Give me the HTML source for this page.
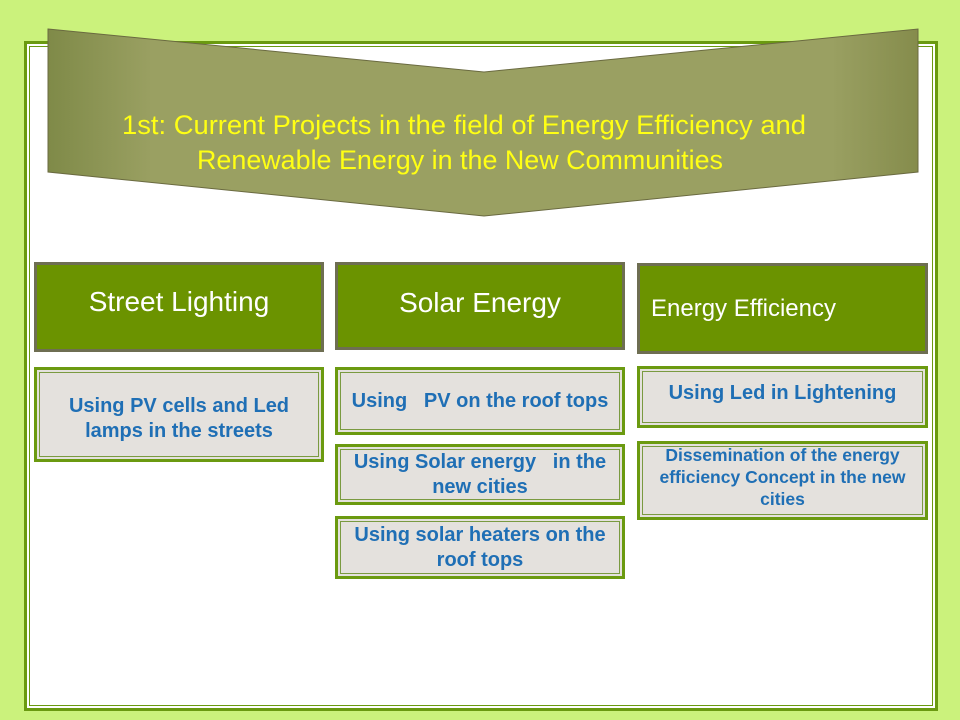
<!DOCTYPE html>
<html><head><style>
body{margin:0;width:960px;height:720px;background:#cbf27c;position:relative;overflow:hidden;font-family:"Liberation Sans",sans-serif}
.frame{position:absolute;left:24px;top:41px;width:908px;height:664px;border:3px solid #6a9a10;background:#fff}
.frame::after{content:"";position:absolute;left:2px;top:2px;right:2px;bottom:2px;border:1px solid #6a9a10}
.h{position:absolute;background:#6b9300;border:3px solid #6e6e52;box-sizing:border-box;color:#fff;display:flex;align-items:center;font-size:28px;letter-spacing:0px}
.s{position:absolute;background:#e4e1dd;border:3px solid #6b9a10;box-sizing:border-box;color:#1f6fb5;font-weight:bold;font-size:20px;letter-spacing:0px;display:flex;align-items:center;justify-content:center;text-align:center;line-height:25px;box-shadow:inset 0 0 0 2px #e4e1dd,inset 0 0 0 3px #7a9a40;white-space:nowrap}
</style></head><body>
<div class="frame"></div>
<svg style="position:absolute;left:0;top:0" width="960" height="720">
<defs><linearGradient id="g" x1="0" x2="1"><stop offset="0" stop-color="#7f8a48"/><stop offset="0.12" stop-color="#9aa062"/><stop offset="0.9" stop-color="#9aa062"/><stop offset="1" stop-color="#858c4c"/></linearGradient></defs>
<polygon points="48,29 484,72 918,29 918,172 484,216 48,172" fill="url(#g)" stroke="#6a6a40" stroke-width="1"/>
<text x="464" y="134" fill="#ffff14" font-size="27" text-anchor="middle" font-family="Liberation Sans" textLength="684" lengthAdjust="spacingAndGlyphs">1st: Current Projects in the field of Energy Efficiency and</text>
<text x="460" y="169" fill="#ffff14" font-size="27" text-anchor="middle" font-family="Liberation Sans" textLength="526" lengthAdjust="spacingAndGlyphs">Renewable Energy in the New Communities</text>
</svg>
<div class="h" style="left:34px;top:262px;width:290px;height:90px;justify-content:center;padding-bottom:10px">Street Lighting</div>
<div class="h" style="left:335px;top:262px;width:290px;height:88px;justify-content:center;padding-bottom:6px">Solar Energy</div>
<div class="h" style="left:637px;top:263px;width:291px;height:91px;padding-left:11px;font-size:24px">Energy Efficiency</div>
<div class="s" style="left:34px;top:367px;width:290px;height:95px;align-items:flex-start;padding-top:24px">Using PV cells and Led<br>lamps in the streets</div>
<div class="s" style="left:335px;top:367px;width:290px;height:68px">Using &nbsp; PV on the roof tops</div>
<div class="s" style="left:335px;top:444px;width:290px;height:61px">Using Solar energy &nbsp; in the<br>new cities</div>
<div class="s" style="left:335px;top:516px;width:290px;height:63px">Using solar heaters on the<br>roof tops</div>
<div class="s" style="left:637px;top:366px;width:291px;height:62px;padding-bottom:8px">Using Led in Lightening</div>
<div class="s" style="left:637px;top:441px;width:291px;height:79px;font-size:17.5px;line-height:22px;padding-bottom:8px">Dissemination of the energy<br>efficiency Concept in the new<br>cities</div>
</body></html>
